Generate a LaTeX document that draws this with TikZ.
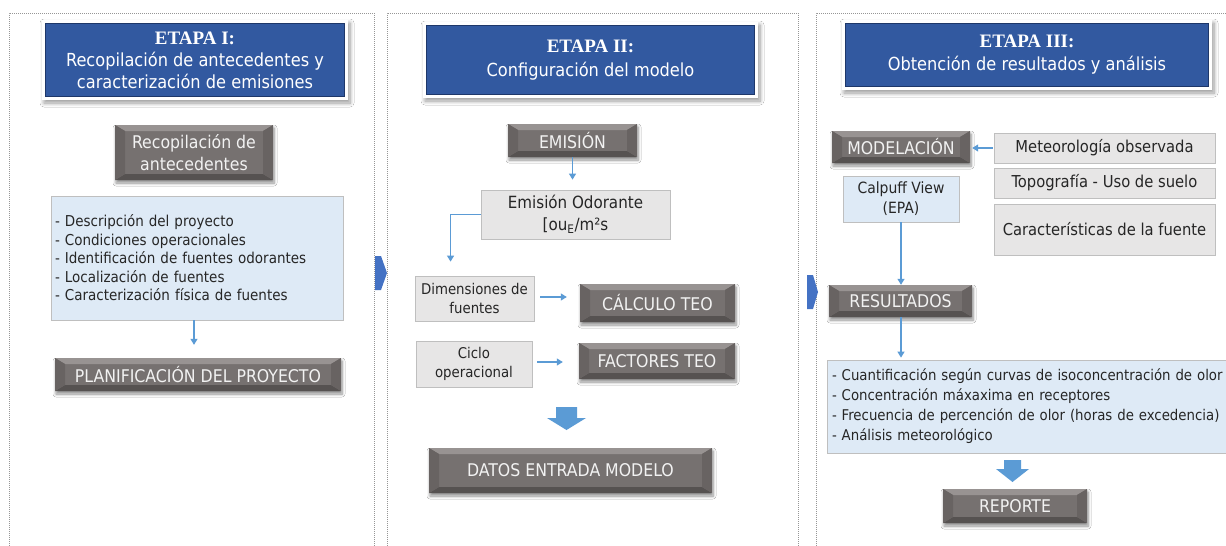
\documentclass[tikz,border=0pt]{standalone}
\usepackage{fontspec}
\setmainfont{DejaVu Sans Condensed}
\newfontfamily\ttlfont{Liberation Serif}
\usetikzlibrary{arrows.meta,shadows.blur,calc}
\definecolor{ttl}{RGB}{50,89,160}
\definecolor{ttldk}{RGB}{30,55,105}
\definecolor{gbox}{RGB}{118,113,112}
\definecolor{gtop}{RGB}{152,147,146}
\definecolor{gbot}{RGB}{86,82,81}
\definecolor{gside}{RGB}{104,99,98}
\definecolor{lblue}{RGB}{222,234,246}
\definecolor{lgray}{RGB}{231,230,230}
\definecolor{bord}{RGB}{191,191,191}
\definecolor{arr}{RGB}{91,155,213}
\definecolor{parr}{RGB}{68,114,196}
\definecolor{dots}{RGB}{150,150,150}
\newcommand{\etapa}[1]{{\ttlfont\bfseries\fontsize{19}{22}\selectfont #1}}
\tikzset{
  bevelbox/.style={rectangle, inner sep=0pt, fill=gbox, text=white!95!black, align=center,
    font=\fontsize{17.5}{22}\selectfont,
    blur shadow={shadow xshift=1pt, shadow yshift=-3pt, shadow blur steps=6, shadow blur radius=3pt, shadow opacity=45},
    path picture={
      \coordinate (pnw) at (path picture bounding box.north west);
      \coordinate (pne) at (path picture bounding box.north east);
      \coordinate (psw) at (path picture bounding box.south west);
      \coordinate (pse) at (path picture bounding box.south east);
      \fill[gtop] (pnw) -- (pne) -- ($(pne)+(-10pt,-6pt)$) -- ($(pnw)+(10pt,-6pt)$) -- cycle;
      \fill[gbot] (psw) -- (pse) -- ($(pse)+(-10pt,6pt)$) -- ($(psw)+(10pt,6pt)$) -- cycle;
      \fill[gside] (pnw) -- ($(pnw)+(10pt,-6pt)$) -- ($(psw)+(10pt,6pt)$) -- (psw) -- cycle;
      \fill[gside] (pne) -- ($(pne)+(-10pt,-6pt)$) -- ($(pse)+(-10pt,6pt)$) -- (pse) -- cycle;
    }},
  titlebox/.style={rectangle, inner sep=0pt, fill=white, text=white, align=center,
    font=\fontsize{18}{22}\selectfont,
    blur shadow={shadow xshift=2pt, shadow yshift=-3pt, shadow blur steps=8, shadow blur radius=4pt, shadow opacity=40},
    path picture={
      \coordinate (pnw) at (path picture bounding box.north west);
      \coordinate (pse) at (path picture bounding box.south east);
      \filldraw[fill=ttl, draw=ttldk, line width=1.4pt] ($(pnw)+(3.5pt,-3.5pt)$) rectangle ($(pse)+(-3.5pt,3.5pt)$);
    }},
  lbbox/.style={rectangle, draw=bord, fill=lblue, line width=0.8pt, inner sep=0pt, text=black!85},
  lgbox/.style={rectangle, draw=bord, fill=lgray, line width=0.8pt, inner sep=0pt, align=center, text=black!85},
  conn/.style={draw=arr, line width=1.2pt, -{Triangle[width=7pt,length=6pt]}},
  panel/.style={draw=dots, line width=0.6pt, dash pattern=on 1pt off 1pt},
}
\begin{document}
\begin{tikzpicture}[x=1pt,y=-1pt]
\useasboundingbox (0,0) rectangle (1226,546);
\clip (0,0) rectangle (1226,546);
\fill[white] (0,0) rectangle (1226,546);

% panels
\draw[panel] (9,560) -- (9,13) -- (374,13) -- (374,560);
\draw[panel] (387,560) -- (387,13) -- (798,13) -- (798,560);
\draw[panel] (816,560) -- (816,13) -- (1240,13);

% panel arrows
\fill[parr] (375,256) -- (381,256) -- (387,273) -- (381,290) -- (375,290) -- cycle;
\fill[parr] (807,275) -- (813,275) -- (818,292) -- (813,309) -- (807,309) -- cycle;

% ETAPA I
\node[titlebox, minimum width=306, minimum height=80] (t1) at (195,60)
  {\etapa{ETAPA I:}\\Recopilación de antecedentes y\\caracterización de emisiones};
\node[bevelbox, minimum width=158, minimum height=55] (rec) at (194,152.5)
  {Recopilación de\\antecedentes};
\node[lbbox, minimum width=292, minimum height=124, text width=284, inner xsep=4pt, align=left,
  font=\fontsize{15}{18.5}\selectfont] (l1) at (197,258)
  {- Descripción del proyecto\\- Condiciones operacionales\\- Identificación de fuentes odorantes\\- Localización de fuentes\\- Caracterización física de fuentes};
\node[bevelbox, minimum width=286, minimum height=33] (plan) at (198,374.5)
  {PLANIFICACIÓN DEL PROYECTO};
\draw[conn, shorten >=13pt] (l1.south -| 194,0) -- (plan.north -| 194,0);

% ETAPA II
\node[titlebox, minimum width=335, minimum height=76] (t2) at (590.5,60)
  {\etapa{ETAPA II:}\\[2pt]Configuración del modelo};
\node[bevelbox, minimum width=129, minimum height=33] (emis) at (572.5,140.5) {EMISIÓN};
\node[lgbox, minimum width=189, minimum height=49, font=\fontsize{16.8}{22}\selectfont] (eo) at (575.5,214.5)
  {Emisión Odorante\\{}[ou\textsubscript{E}/m²s};
\node[lgbox, minimum width=119, minimum height=45, font=\fontsize{14.8}{19}\selectfont] (dim) at (474.5,298.5)
  {Dimensiones de\\fuentes};
\node[bevelbox, minimum width=155, minimum height=38] (calc) at (657.5,303) {CÁLCULO TEO};
\node[lgbox, minimum width=116, minimum height=46, font=\fontsize{14.8}{19}\selectfont] (ciclo) at (474,364)
  {Ciclo\\operacional};
\node[bevelbox, minimum width=156, minimum height=36] (fact) at (657,361) {FACTORES TEO};
\node[bevelbox, minimum width=283, minimum height=45] (datos) at (570.5,470.5) {DATOS ENTRADA MODELO};

\draw[conn, shorten >=10pt] (emis.south) -- (emis.south |- eo.north);
\coordinate (dimtop) at ($(dim.north west)!0.3!(dim.north east)$);
\draw[conn, shorten >=14pt] (eo.west) -| (dimtop);
\draw[conn, shorten <=6pt, shorten >=13pt] (dim.east |- 0,297) -- (calc.west |- 0,297);
\draw[conn, shorten <=5pt, shorten >=16pt] (ciclo.east |- 0,362) -- (fact.west |- 0,362);
\coordinate (b1) at (566.5,407);
\fill[arr] (b1) ++(-10.5,0) -- ++(21,0) -- ++(0,11) -- ++(9,0) -- ++(-19.5,12) -- ++(-19.5,-12) -- ++(9,0) -- cycle;

% ETAPA III
\node[titlebox, minimum width=370, minimum height=70] (t3) at (1027,55)
  {\etapa{ETAPA III:}\\[1pt]Obtención de resultados y análisis};
\node[bevelbox, minimum width=138, minimum height=32] (model) at (901,147) {MODELACIÓN};
\node[lgbox, minimum width=221, minimum height=30, font=\fontsize{16.4}{20}\selectfont] (met) at (1104.5,148)
  {Meteorología observada};
\node[lgbox, minimum width=221, minimum height=30, font=\fontsize{16.4}{20}\selectfont] (topo) at (1104.5,183)
  {Topografía - Uso de suelo};
\node[lgbox, minimum width=221, minimum height=51, font=\fontsize{16.4}{20}\selectfont] (carac) at (1104.5,229.5)
  {Características de la fuente};
\node[lbbox, minimum width=116, minimum height=46, align=center, font=\fontsize{15.5}{20}\selectfont] (calp) at (901,199)
  {Calpuff View\\(EPA)};
\node[bevelbox, minimum width=143, minimum height=32] (res) at (900.5,301) {RESULTADOS};
\node[lbbox, minimum width=413, minimum height=93, text width=403, inner xsep=5pt, align=left,
  font=\fontsize{14.8}{20}\selectfont] (l3) at (1033.5,406.5)
  {- Cuantificación según curvas de isoconcentración de olor\\- Concentración máxaxima en receptores\\- Frecuencia de percención de olor (horas de excedencia)\\- Análisis meteorológico};
\node[bevelbox, minimum width=144, minimum height=34] (rep) at (1015,506) {REPORTE};

\draw[conn, shorten <=1pt, shorten >=2pt] (met.west) -- (met.west -| model.east);
\draw[conn] (calp.south) -- (calp.south |- res.north);
\draw[conn, shorten >=2pt] (res.south -| calp.south) -- (l3.north -| calp.south);
\coordinate (b2) at (1012.5,460);
\fill[arr] (b2) ++(-8.5,0) -- ++(17,0) -- ++(0,9) -- ++(8,0) -- ++(-16.5,13) -- ++(-16.5,-13) -- ++(8,0) -- cycle;
\end{tikzpicture}
\end{document}
